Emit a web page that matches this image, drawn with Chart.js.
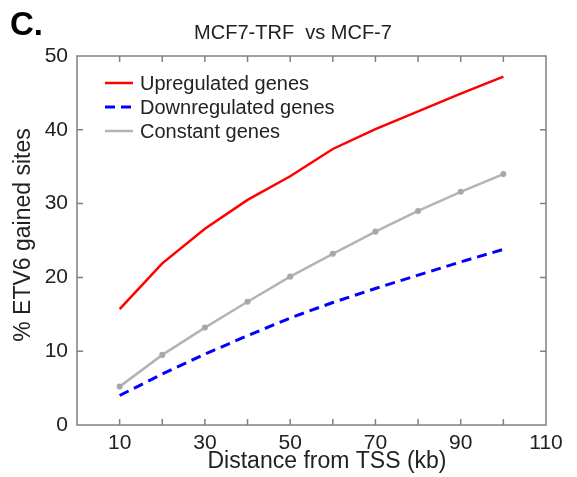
<!DOCTYPE html>
<html>
<head>
<meta charset="utf-8">
<script src="https://cdn.jsdelivr.net/npm/chart.js@4"></script>
<style>
  html, body { margin: 0; padding: 0; background: #fff; }
  #wrap { width: 577px; height: 477px; position: relative; }
</style>
</head>
<body>
<div id="wrap"><canvas id="c" width="577" height="477"></canvas></div>
<script>
// Distance from TSS (kb)
const distances = [10, 20, 30, 40, 50, 60, 70, 80, 90, 100];
// % ETV6 gained sites within each distance
const upregulated   = [15.7, 21.9, 26.6, 30.5, 33.7, 37.4, 40.1, 42.5, 44.9, 47.2];
const downregulated = [4.0, 6.9, 9.6, 12.1, 14.5, 16.6, 18.5, 20.3, 22.1, 23.8];
const constant      = [5.2, 9.5, 13.2, 16.7, 20.1, 23.2, 26.2, 29.0, 31.6, 34.0];
const seriesNames = ['Upregulated genes', 'Downregulated genes', 'Constant genes'];
const xTickLabels = [10, 30, 50, 70, 90, 110];
const yTickLabels = [0, 10, 20, 30, 40, 50];

const FONT = '"Liberation Sans", Arial, sans-serif';
const TEXT = '#222';

const toPoints = vals => vals.map((v, i) => ({ x: distances[i], y: v }));

// Box frame, inward ticks, legend and titles
const framePlugin = {
  id: 'frame',
  afterDraw(chart) {
    const { ctx, chartArea: a, scales } = chart;
    const xs = scales.x, ys = scales.y;
    ctx.save();
    ctx.strokeStyle = '#808080';
    ctx.lineWidth = 1.5;
    ctx.strokeRect(a.left, a.top, a.right - a.left, a.bottom - a.top);
    const tl = 6;
    ctx.beginPath();
    for (let v = 10; v <= 100; v += 10) {
      const px = xs.getPixelForValue(v);
      ctx.moveTo(px, a.bottom); ctx.lineTo(px, a.bottom - tl);
      ctx.moveTo(px, a.top); ctx.lineTo(px, a.top + tl);
    }
    for (let v = 10; v <= 40; v += 10) {
      const py = ys.getPixelForValue(v);
      ctx.moveTo(a.left, py); ctx.lineTo(a.left + tl, py);
      ctx.moveTo(a.right, py); ctx.lineTo(a.right - tl, py);
    }
    ctx.stroke();

    // legend
    const rows = [83, 107, 131];
    chart.data.datasets.forEach((ds, i) => {
      const y = rows[i];
      ctx.beginPath();
      ctx.strokeStyle = ds.borderColor;
      ctx.lineWidth = ds.borderWidth;
      ctx.setLineDash(ds.borderDash || []);
      ctx.moveTo(105, y); ctx.lineTo(133, y);
      ctx.stroke();
      ctx.setLineDash([]);
      ctx.fillStyle = TEXT;
      ctx.font = '20px ' + FONT;
      ctx.textBaseline = 'middle';
      ctx.textAlign = 'left';
      ctx.fillText(ds.label, 140, y + 1);
    });

    // panel letter
    ctx.fillStyle = '#000';
    ctx.font = 'bold 33px ' + FONT;
    ctx.textBaseline = 'alphabetic';
    ctx.textAlign = 'left';
    ctx.fillText('C.', 10, 35);

    // title
    ctx.fillStyle = TEXT;
    ctx.font = '20px ' + FONT;
    ctx.textAlign = 'center';
    ctx.fillText('MCF7-TRF  vs MCF-7', 293, 39);

    // x axis title
    ctx.font = '23px ' + FONT;
    ctx.fillText('Distance from TSS (kb)', 327, 468);

    // y axis title
    ctx.save();
    ctx.translate(30, 235);
    ctx.rotate(-Math.PI / 2);
    ctx.fillText('% ETV6 gained sites', 0, 0);
    ctx.restore();
    ctx.restore();
  }
};

new Chart(document.getElementById('c'), {
  type: 'line',
  data: {
    datasets: [
      {
        label: seriesNames[0],
        data: toPoints(upregulated),
        borderColor: '#ff0000',
        borderWidth: 2.5,
        pointRadius: 0,
        tension: 0
      },
      {
        label: seriesNames[1],
        data: toPoints(downregulated),
        borderColor: '#0000ff',
        borderWidth: 3,
        borderDash: [10, 6],
        pointRadius: 0,
        tension: 0
      },
      {
        label: seriesNames[2],
        data: toPoints(constant),
        borderColor: '#b4b4b4',
        borderWidth: 2.5,
        pointRadius: 1.8,
        pointBackgroundColor: '#a8a8a8',
        pointBorderColor: '#a8a8a8',
        tension: 0
      }
    ]
  },
  options: {
    responsive: false,
    animation: false,
    layout: { padding: { left: 0, top: 56, right: 31, bottom: 0 } },
    plugins: {
      legend: { display: false },
      title: { display: false },
      tooltip: { enabled: false }
    },
    scales: {
      x: {
        type: 'linear',
        min: 0,
        max: 110,
        afterBuildTicks: s => { s.ticks = xTickLabels.map(v => ({ value: v })); },
        afterFit: s => { s.height = 52; },
        grid: { display: false, drawTicks: false },
        border: { display: false },
        ticks: { color: TEXT, font: { family: FONT, size: 21 }, padding: 6, maxRotation: 0, autoSkip: false }
      },
      y: {
        min: 0,
        max: 50,
        afterBuildTicks: s => { s.ticks = yTickLabels.map(v => ({ value: v })); },
        afterFit: s => { s.width = 77; },
        grid: { display: false, drawTicks: false },
        border: { display: false },
        ticks: { color: TEXT, font: { family: FONT, size: 21 }, padding: 9 }
      }
    }
  },
  plugins: [framePlugin]
});
</script>
</body>
</html>
